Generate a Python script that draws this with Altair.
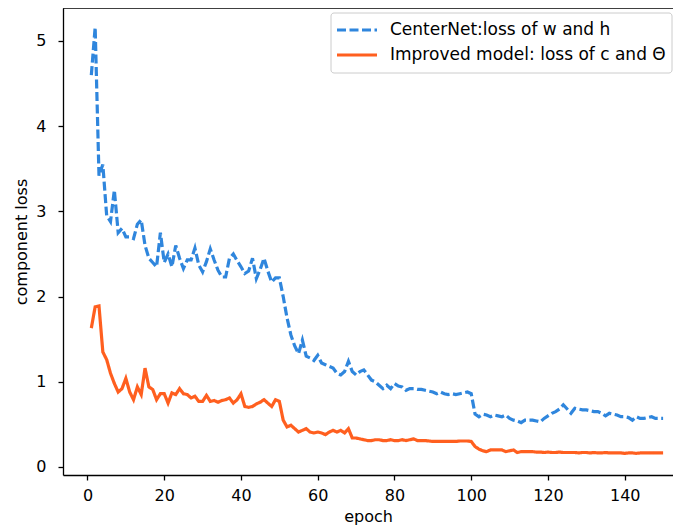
import altair as alt
import pandas as pd

epochs = list(range(1, 151))

centernet_wh = [
    4.60, 5.16, 3.42, 3.55, 2.95, 2.88, 3.25, 2.75, 2.80, 2.70,
    2.70, 2.68, 2.85, 2.90, 2.60, 2.45, 2.40, 2.35, 2.75, 2.40,
    2.50, 2.35, 2.60, 2.45, 2.33, 2.43, 2.43, 2.57, 2.37, 2.29,
    2.41, 2.56, 2.43, 2.31, 2.23, 2.23, 2.45, 2.50, 2.42, 2.35,
    2.27, 2.30, 2.45, 2.21, 2.32, 2.45, 2.30, 2.17, 2.22, 2.22,
    2.00, 1.75, 1.55, 1.42, 1.33, 1.49, 1.30, 1.28, 1.25, 1.31,
    1.22, 1.20, 1.18, 1.16, 1.10, 1.08, 1.12, 1.24, 1.12, 1.08,
    1.12, 1.14, 1.08, 1.02, 1.00, 0.96, 0.92, 0.96, 0.92, 0.98,
    0.95, 0.94, 0.90, 0.92, 0.92, 0.91, 0.91, 0.90, 0.89, 0.88,
    0.86, 0.88, 0.86, 0.85, 0.86, 0.85, 0.86, 0.87, 0.88, 0.86,
    0.62, 0.59, 0.62, 0.61, 0.59, 0.61, 0.60, 0.59, 0.61, 0.57,
    0.55, 0.54, 0.52, 0.55, 0.55, 0.55, 0.54, 0.53, 0.57, 0.60,
    0.63, 0.65, 0.68, 0.73, 0.68, 0.63, 0.69, 0.68, 0.67, 0.67,
    0.66, 0.65, 0.65, 0.63, 0.60, 0.63, 0.62, 0.61, 0.59, 0.59,
    0.58, 0.55, 0.59, 0.57, 0.57, 0.58, 0.59, 0.57, 0.57, 0.57,
]

improved_ctheta = [
    1.63, 1.88, 1.89, 1.35, 1.26, 1.10, 0.98, 0.88, 0.92, 1.04,
    0.88, 0.79, 0.94, 0.85, 1.16, 0.94, 0.91, 0.79, 0.86, 0.86,
    0.75, 0.87, 0.85, 0.92, 0.86, 0.85, 0.81, 0.83, 0.77, 0.77,
    0.84, 0.77, 0.78, 0.76, 0.78, 0.79, 0.81, 0.75, 0.79, 0.86,
    0.71, 0.70, 0.71, 0.74, 0.76, 0.79, 0.75, 0.71, 0.79, 0.77,
    0.55, 0.47, 0.49, 0.45, 0.41, 0.43, 0.45, 0.41, 0.40, 0.41,
    0.40, 0.38, 0.41, 0.43, 0.41, 0.43, 0.40, 0.45, 0.34, 0.34,
    0.33, 0.32, 0.31, 0.31, 0.32, 0.32, 0.31, 0.31, 0.32, 0.31,
    0.31, 0.32, 0.31, 0.32, 0.33, 0.31, 0.31, 0.31, 0.305, 0.30,
    0.30, 0.30, 0.30, 0.30, 0.30, 0.30, 0.305, 0.305, 0.305, 0.30,
    0.24, 0.21, 0.19, 0.18, 0.20, 0.20, 0.20, 0.20, 0.18, 0.19,
    0.20, 0.17, 0.18, 0.18, 0.18, 0.18, 0.175, 0.175, 0.17, 0.175,
    0.17, 0.17, 0.175, 0.17, 0.17, 0.17, 0.17, 0.165, 0.17, 0.17,
    0.165, 0.17, 0.165, 0.165, 0.17, 0.165, 0.165, 0.165, 0.165, 0.16,
    0.165, 0.165, 0.16, 0.165, 0.165, 0.165, 0.165, 0.165, 0.165, 0.165,
]

series_names = ["CenterNet:loss of w and h", "Improved model: loss of c and Θ"]
series_colors = ["#2f86dd", "#ff5f1f"]
series_dashes = [[9, 3.5], [1, 0]]

x_ticks = [0, 20, 40, 60, 80, 100, 120, 140]
y_ticks = [0, 1, 2, 3, 4, 5]

df = pd.DataFrame({
    "epoch": epochs * 2,
    "loss": centernet_wh + improved_ctheta,
    "series": [series_names[0]] * len(epochs) + [series_names[1]] * len(epochs),
})

W, H = 610, 467
FONT = "DejaVu Sans"

lines = alt.Chart(df).mark_line(strokeWidth=3.2, clip=True).encode(
    x=alt.X("epoch:Q",
            scale=alt.Scale(domain=[-6.38, 152.58], nice=False, zero=False),
            axis=alt.Axis(values=x_ticks, title="epoch", grid=False, format="d",
                          labelFontSize=16, titleFontSize=16, labelPadding=7,
                          titlePadding=5, labelFont=FONT, titleFont=FONT)),
    y=alt.Y("loss:Q",
            scale=alt.Scale(domain=[-0.094, 5.387], nice=False, zero=False),
            axis=alt.Axis(values=y_ticks, title="component loss", grid=False, format="d",
                          labelFontSize=16, titleFontSize=16, labelPadding=12,
                          titlePadding=6, labelFont=FONT, titleFont=FONT)),
    color=alt.Color("series:N",
                    scale=alt.Scale(domain=series_names, range=series_colors),
                    legend=None),
    strokeDash=alt.StrokeDash("series:N",
                              scale=alt.Scale(domain=series_names, range=series_dashes),
                              legend=None),
    order=alt.Order("epoch:Q"),
)

one = pd.DataFrame({"a": [0]})

top_spine = alt.Chart(one).mark_rule(color="black", strokeWidth=1.3).encode(
    x=alt.value(0), x2=alt.value(W), y=alt.value(0)
)

legend_box = alt.Chart(one).mark_rect(
    fill="white", fillOpacity=0.85, stroke="#cccccc", strokeWidth=1, cornerRadius=3
).encode(x=alt.value(268), x2=alt.value(W - 1), y=alt.value(5), y2=alt.value(65))

leg_blue = alt.Chart(one).mark_rule(color=series_colors[0], strokeWidth=3.2,
                                    strokeDash=series_dashes[0]).encode(
    x=alt.value(274), x2=alt.value(314), y=alt.value(22))
leg_orange = alt.Chart(one).mark_rule(color=series_colors[1], strokeWidth=3.2).encode(
    x=alt.value(274), x2=alt.value(314), y=alt.value(47))
leg_text1 = alt.Chart(one).mark_text(
    text=series_names[0], align="left", baseline="middle", fontSize=17, font=FONT, color="black"
).encode(x=alt.value(327), y=alt.value(22))
leg_text2 = alt.Chart(one).mark_text(
    text=series_names[1], align="left", baseline="middle", fontSize=17, font=FONT, color="black"
).encode(x=alt.value(327), y=alt.value(47))

chart = alt.layer(lines, top_spine, legend_box, leg_blue, leg_orange, leg_text1, leg_text2).properties(
    width=W, height=H,
    autosize=alt.AutoSizeParams(type="none"),
    padding={"left": 55, "top": 0, "right": 0, "bottom": 50},
).configure_view(stroke=None).configure_axis(
    domainColor="black", domainWidth=1.3, tickColor="black", tickWidth=1.3, tickSize=5,
    labelColor="black", titleColor="black", titleFontWeight="normal",
)

chart.save("out.html", embed_options={"renderer": "svg", "actions": False})
